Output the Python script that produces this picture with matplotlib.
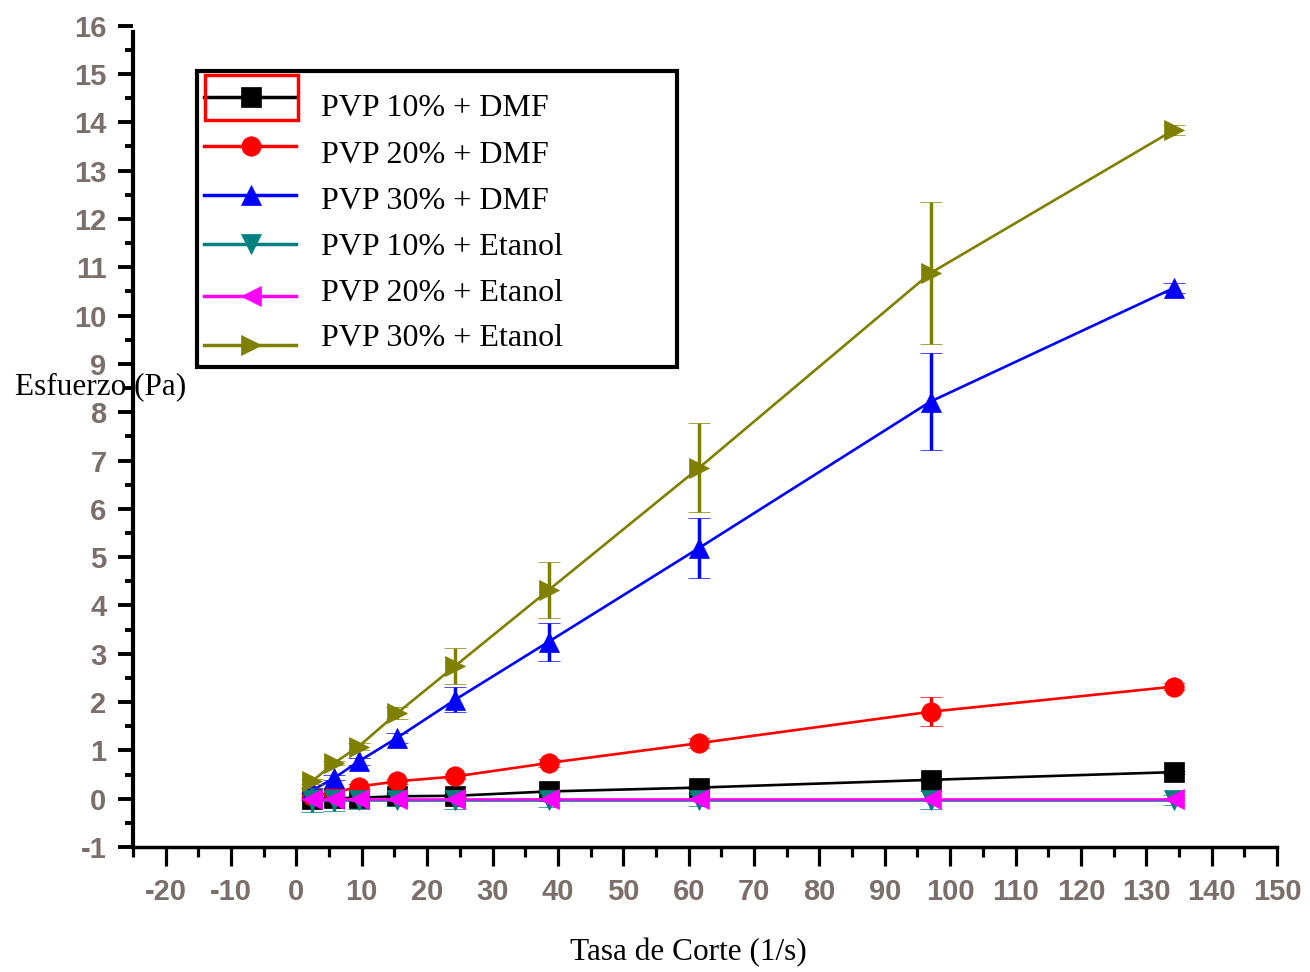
import matplotlib
matplotlib.use("Agg")
import matplotlib.pyplot as plt
from matplotlib.lines import Line2D
from matplotlib.patches import Rectangle
from matplotlib.ticker import MultipleLocator

# ---------------- data ----------------
shear_rate = [2.4, 5.8, 9.5, 15.4, 24.3, 38.6, 61.6, 97.0, 134.2]

pvp10_dmf = [0.00, 0.01, 0.02, 0.05, 0.06, 0.15, 0.23, 0.39, 0.55]
pvp10_dmf_err = [0.03, 0.03, 0.03, 0.03, 0.03, 0.03, 0.03, 0.03, 0.03]

pvp20_dmf = [0.05, 0.12, 0.25, 0.36, 0.46, 0.74, 1.15, 1.80, 2.32]
pvp20_dmf_err = [0.05, 0.05, 0.05, 0.05, 0.06, 0.08, 0.10, 0.30, 0.08]

pvp30_dmf = [0.17, 0.43, 0.77, 1.26, 2.05, 3.25, 5.19, 8.22, 10.57]
pvp30_dmf_err = [0.05, 0.05, 0.08, 0.10, 0.26, 0.39, 0.62, 1.00, 0.10]

pvp10_et = [-0.03, -0.03, -0.03, -0.03, -0.03, -0.03, -0.03, -0.03, -0.03]
pvp10_et_err = [0.25, 0.22, 0.18, 0.12, 0.18, 0.15, 0.12, 0.18, 0.10]

pvp20_et = [0.00, 0.00, 0.00, 0.00, 0.00, 0.00, 0.00, 0.00, 0.00]
pvp20_et_err = [0.02, 0.02, 0.02, 0.02, 0.02, 0.02, 0.02, 0.02, 0.02]

pvp30_et = [0.36, 0.74, 1.08, 1.77, 2.75, 4.32, 6.85, 10.88, 13.84]
pvp30_et_err = [0.05, 0.05, 0.08, 0.12, 0.37, 0.58, 0.92, 1.47, 0.10]

labels = ["PVP 10% + DMF", "PVP 20% + DMF", "PVP 30% + DMF",
          "PVP 10% + Etanol", "PVP 20% + Etanol", "PVP 30% + Etanol"]
colors = ["#000000", "#ff0000", "#0000ff", "#008080", "#ff00ff", "#808000"]
markers = ["s", "o", "^", "v", "<", ">"]
series = [pvp10_dmf, pvp20_dmf, pvp30_dmf, pvp10_et, pvp20_et, pvp30_et]
errors = [pvp10_dmf_err, pvp20_dmf_err, pvp30_dmf_err,
          pvp10_et_err, pvp20_et_err, pvp30_et_err]

x_ticks = list(range(-20, 151, 10))
y_ticks = list(range(-1, 17, 1))

# ---------------- figure ----------------
W, H = 1310, 972
fig = plt.figure(figsize=(W / 100, H / 100), dpi=100)
left, right, bottom, top = 133, 1277, 847, 25.7
ax = fig.add_axes([left / W, 1 - bottom / H, (right - left) / W, (bottom - top) / H])


def fx(px):
    return px / W


def fy(py):
    return 1 - py / H


serif = ["Liberation Serif", "DejaVu Serif"]
sans = ["Liberation Sans", "DejaVu Sans"]
tick_color = "#7a6f6b"

for i, (y, e) in enumerate(zip(series, errors)):
    ax.errorbar(shear_rate, y, yerr=e, color=colors[i], ecolor=colors[i],
                marker=markers[i], markersize=14, markeredgecolor=colors[i],
                markerfacecolor=colors[i], markeredgewidth=0.5,
                linewidth=1.9, elinewidth=2.5, capsize=8, capthick=2.5,
                zorder=3 + i)

ax.set_xlim(-25, 150)
ax.set_ylim(-1, 16)
ax.set_xticks(x_ticks)
ax.set_yticks(y_ticks)
ax.set_xticklabels([str(v) for v in x_ticks])
ax.set_yticklabels([str(v) for v in y_ticks])
ax.xaxis.set_minor_locator(MultipleLocator(5))
ax.yaxis.set_minor_locator(MultipleLocator(0.5))

for s in ["top", "right"]:
    ax.spines[s].set_visible(False)
ax.spines["left"].set_linewidth(3)
ax.spines["bottom"].set_linewidth(2.5)
ax.spines["left"].set_bounds(-1, 15.87)

ax.tick_params(axis="x", which="major", direction="out", length=14, width=2.3,
               pad=8, labelsize=21, labelcolor=tick_color)
ax.tick_params(axis="x", which="minor", direction="out", length=7, width=2.3)
ax.tick_params(axis="y", which="major", direction="out", length=11, width=2.8,
               pad=8, labelsize=21, labelcolor=tick_color)
ax.tick_params(axis="y", which="minor", direction="out", length=5.5, width=2.8)
for lab in ax.get_xticklabels() + ax.get_yticklabels():
    lab.set_family(sans)
    lab.set_fontweight("bold")

# axis titles
fig.text(fx(101), fy(387), "Esfuerzo (Pa)", ha="center", va="center",
         fontsize=22.5, family=serif, color="#000000")
fig.text(fx(688), fy(953), "Tasa de Corte (1/s)", ha="center", va="center",
         fontsize=22.5, family=serif, color="#000000")

# legend (drawn manually to match the reference layout)
fig.patches.append(Rectangle((fx(197), fy(367)), fx(677) - fx(197), fy(71) - fy(367),
                             transform=fig.transFigure, facecolor="white",
                             edgecolor="#000000", linewidth=3, zorder=20))
handle_y = [97.3, 146, 195, 243.7, 295.7, 345]
text_y = [109, 155.5, 201.5, 247.5, 293.5, 339]
for i in range(6):
    fig.lines.append(Line2D([fx(204), fx(296)], [fy(handle_y[i])] * 2,
                            transform=fig.transFigure, color=colors[i],
                            linewidth=2.5, zorder=21))
    fig.lines.append(Line2D([fx(251)], [fy(handle_y[i])],
                            transform=fig.transFigure, color=colors[i],
                            marker=markers[i], markersize=14,
                            markeredgewidth=0.5, linestyle="none", zorder=22))
    fig.text(fx(321), fy(text_y[i]), labels[i], ha="left", va="center",
             fontsize=23, family=serif, color="#000000", zorder=23)

# red selection box around first legend handle
fig.patches.append(Rectangle((fx(205), fy(120)), fx(298) - fx(205), fy(75) - fy(120),
                             transform=fig.transFigure, fill=False,
                             edgecolor="#ff0000", linewidth=2.5, zorder=30))

fig.savefig("out.png", dpi=100, facecolor="white")
